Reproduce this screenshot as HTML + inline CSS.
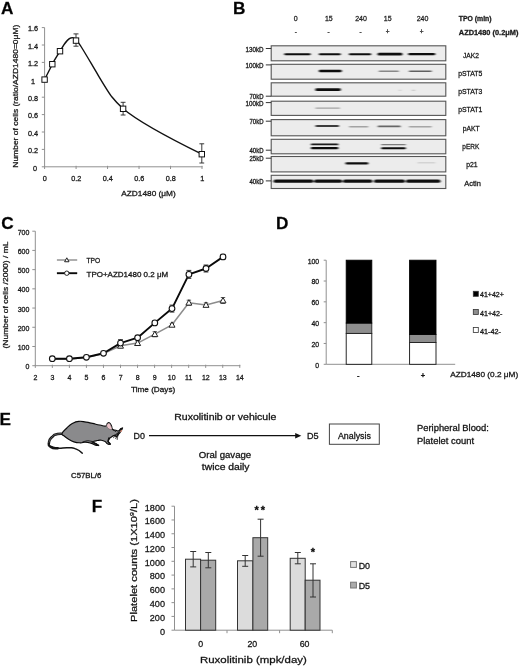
<!DOCTYPE html>
<html lang="en"><head><meta charset="utf-8"><title>Figure</title>
<style>
html,body{margin:0;padding:0;background:#fff;}
body{width:520px;height:668px;overflow:hidden;}
text{stroke:#1a1a1a;stroke-width:0.28px;}
svg{display:block;filter:blur(0.4px);font-family:'Liberation Sans', 'DejaVu Sans', sans-serif;}
</style></head><body>
<svg width="520" height="668" viewBox="0 0 520 668">
<defs><filter id="bb" x="-5%" y="-50%" width="110%" height="200%"><feGaussianBlur stdDeviation="0.9 0.35"/></filter></defs>
<rect width="520" height="668" fill="#fff"/>
<text x="1.00" y="13.80" font-size="17.2" text-anchor="start" font-weight="bold" fill="#000">A</text>
<text x="233.00" y="13.80" font-size="17.2" text-anchor="start" font-weight="bold" fill="#000">B</text>
<text x="1.30" y="228.80" font-size="17.2" text-anchor="start" font-weight="bold" fill="#000">C</text>
<text x="276.00" y="229.30" font-size="17.2" text-anchor="start" font-weight="bold" fill="#000">D</text>
<text x="-0.50" y="424.80" font-size="17.2" text-anchor="start" font-weight="bold" fill="#000">E</text>
<text x="91.80" y="512.00" font-size="17.2" text-anchor="start" font-weight="bold" fill="#000">F</text>
<line x1="44.60" y1="27.60" x2="44.60" y2="166.80" stroke="#909090" stroke-width="1"/>
<line x1="44.60" y1="166.80" x2="202.50" y2="166.80" stroke="#909090" stroke-width="1"/>
<line x1="41.80" y1="166.80" x2="44.60" y2="166.80" stroke="#909090" stroke-width="1"/>
<text x="35.00" y="170.60" font-size="7.3" text-anchor="middle" fill="#151515">0</text>
<line x1="41.80" y1="149.40" x2="44.60" y2="149.40" stroke="#909090" stroke-width="1"/>
<text x="33.00" y="153.20" font-size="7.3" text-anchor="middle" fill="#151515">0.2</text>
<line x1="41.80" y1="132.00" x2="44.60" y2="132.00" stroke="#909090" stroke-width="1"/>
<text x="33.00" y="135.80" font-size="7.3" text-anchor="middle" fill="#151515">0.4</text>
<line x1="41.80" y1="114.60" x2="44.60" y2="114.60" stroke="#909090" stroke-width="1"/>
<text x="33.00" y="118.40" font-size="7.3" text-anchor="middle" fill="#151515">0.6</text>
<line x1="41.80" y1="97.20" x2="44.60" y2="97.20" stroke="#909090" stroke-width="1"/>
<text x="33.00" y="101.00" font-size="7.3" text-anchor="middle" fill="#151515">0.8</text>
<line x1="41.80" y1="79.80" x2="44.60" y2="79.80" stroke="#909090" stroke-width="1"/>
<text x="33.00" y="83.60" font-size="7.3" text-anchor="middle" fill="#151515">1</text>
<line x1="41.80" y1="62.40" x2="44.60" y2="62.40" stroke="#909090" stroke-width="1"/>
<text x="33.00" y="66.20" font-size="7.3" text-anchor="middle" fill="#151515">1.2</text>
<line x1="41.80" y1="45.00" x2="44.60" y2="45.00" stroke="#909090" stroke-width="1"/>
<text x="33.00" y="48.80" font-size="7.3" text-anchor="middle" fill="#151515">1.4</text>
<line x1="41.80" y1="27.60" x2="44.60" y2="27.60" stroke="#909090" stroke-width="1"/>
<text x="33.00" y="31.40" font-size="7.3" text-anchor="middle" fill="#151515">1.6</text>
<line x1="44.60" y1="165.80" x2="44.60" y2="169.00" stroke="#909090" stroke-width="1"/>
<text x="44.80" y="181.20" font-size="7.3" text-anchor="middle" fill="#151515">0</text>
<line x1="76.08" y1="165.80" x2="76.08" y2="169.00" stroke="#909090" stroke-width="1"/>
<text x="76.28" y="181.20" font-size="7.3" text-anchor="middle" fill="#151515">0.2</text>
<line x1="107.56" y1="165.80" x2="107.56" y2="169.00" stroke="#909090" stroke-width="1"/>
<text x="107.76" y="181.20" font-size="7.3" text-anchor="middle" fill="#151515">0.4</text>
<line x1="139.04" y1="165.80" x2="139.04" y2="169.00" stroke="#909090" stroke-width="1"/>
<text x="139.24" y="181.20" font-size="7.3" text-anchor="middle" fill="#151515">0.6</text>
<line x1="170.52" y1="165.80" x2="170.52" y2="169.00" stroke="#909090" stroke-width="1"/>
<text x="170.72" y="181.20" font-size="7.3" text-anchor="middle" fill="#151515">0.8</text>
<line x1="202.00" y1="165.80" x2="202.00" y2="169.00" stroke="#909090" stroke-width="1"/>
<text x="202.20" y="181.20" font-size="7.3" text-anchor="middle" fill="#151515">1</text>
<text x="148.50" y="195.50" font-size="7.7" text-anchor="middle" fill="#151515" textLength="54.5" lengthAdjust="spacingAndGlyphs">AZD1480 (μM)</text>
<text x="18.50" y="96.20" font-size="7.7" text-anchor="middle" fill="#151515" textLength="143.0" lengthAdjust="spacingAndGlyphs" transform="rotate(-90 18.50 96.20)">Number of cells (ratio/AZD1480=0μM)</text>
<path d="M44.6,79.6 C47,74.5 50,69 52.3,64.2 C55,59 57.5,55.5 60,51.2 C63.5,45 67.5,37.6 72.5,37.6 C76,37.6 78.5,42.5 81,46.5 C87,56 92,65 98.5,75.8 C104,85 110,94.5 112,97 C116,102 119,105 123.1,108.8 C140,123 175,141 201.8,154.2" fill="none" stroke="#111" stroke-width="1.4"/>
<line x1="76.00" y1="33.90" x2="76.00" y2="46.20" stroke="#222" stroke-width="0.9"/>
<line x1="73.50" y1="33.90" x2="78.50" y2="33.90" stroke="#222" stroke-width="0.9"/>
<line x1="73.50" y1="46.20" x2="78.50" y2="46.20" stroke="#222" stroke-width="0.9"/>
<line x1="123.10" y1="102.30" x2="123.10" y2="115.00" stroke="#222" stroke-width="0.9"/>
<line x1="120.70" y1="102.30" x2="125.50" y2="102.30" stroke="#222" stroke-width="0.9"/>
<line x1="120.70" y1="115.00" x2="125.50" y2="115.00" stroke="#222" stroke-width="0.9"/>
<line x1="201.80" y1="143.80" x2="201.80" y2="163.00" stroke="#222" stroke-width="0.9"/>
<line x1="199.40" y1="143.80" x2="204.20" y2="143.80" stroke="#222" stroke-width="0.9"/>
<line x1="199.40" y1="163.00" x2="204.20" y2="163.00" stroke="#222" stroke-width="0.9"/>
<rect x="41.90" y="76.90" width="5.4" height="5.4" fill="#fff" stroke="#111" stroke-width="1"/>
<rect x="49.60" y="61.50" width="5.4" height="5.4" fill="#fff" stroke="#111" stroke-width="1"/>
<rect x="57.30" y="48.50" width="5.4" height="5.4" fill="#fff" stroke="#111" stroke-width="1"/>
<rect x="73.30" y="37.90" width="5.4" height="5.4" fill="#fff" stroke="#111" stroke-width="1"/>
<rect x="120.40" y="106.10" width="5.4" height="5.4" fill="#fff" stroke="#111" stroke-width="1"/>
<rect x="199.10" y="151.50" width="5.4" height="5.4" fill="#fff" stroke="#111" stroke-width="1"/>
<text x="295.70" y="21.40" font-size="7" text-anchor="middle" fill="#333">0</text>
<text x="328.80" y="21.40" font-size="7" text-anchor="middle" fill="#333">15</text>
<text x="361.00" y="21.40" font-size="7" text-anchor="middle" fill="#333">240</text>
<text x="387.70" y="21.40" font-size="7" text-anchor="middle" fill="#333">15</text>
<text x="422.50" y="21.40" font-size="7" text-anchor="middle" fill="#333">240</text>
<text x="295.70" y="34.20" font-size="6.4" text-anchor="middle" fill="#333">-</text>
<text x="328.50" y="34.20" font-size="6.4" text-anchor="middle" fill="#333">-</text>
<text x="360.50" y="34.20" font-size="6.4" text-anchor="middle" fill="#333">-</text>
<text x="387.70" y="34.20" font-size="6.4" text-anchor="middle" fill="#333">+</text>
<text x="421.50" y="34.20" font-size="6.4" text-anchor="middle" fill="#333">+</text>
<text x="458.80" y="21.30" font-size="7" text-anchor="start" font-weight="bold" fill="#1a1a1a" textLength="32.8" lengthAdjust="spacingAndGlyphs">TPO (min)</text>
<text x="458.80" y="34.80" font-size="7" text-anchor="start" font-weight="bold" fill="#1a1a1a" textLength="59.6" lengthAdjust="spacingAndGlyphs">AZD1480 (0.2μM)</text>
<rect x="271.2" y="45.8" width="174.6" height="15.0" fill="#ececec" stroke="#555" stroke-width="1.1"/>
<rect x="271.2" y="64.3" width="174.6" height="14.9" fill="#ececec" stroke="#555" stroke-width="1.1"/>
<rect x="271.2" y="82.8" width="174.6" height="13.4" fill="#ececec" stroke="#555" stroke-width="1.1"/>
<rect x="271.2" y="101.2" width="174.6" height="14.2" fill="#ececec" stroke="#555" stroke-width="1.1"/>
<rect x="271.2" y="119.6" width="174.6" height="16.2" fill="#ececec" stroke="#555" stroke-width="1.1"/>
<rect x="271.2" y="139.3" width="174.6" height="14.5" fill="#ececec" stroke="#555" stroke-width="1.1"/>
<rect x="271.2" y="156.5" width="174.6" height="15.4" fill="#ececec" stroke="#555" stroke-width="1.1"/>
<rect x="271.2" y="175.3" width="174.6" height="13.2" fill="#ececec" stroke="#555" stroke-width="1.1"/>
<text x="462.90" y="57.50" font-size="7.4" text-anchor="start" fill="#151515" textLength="16.0" lengthAdjust="spacingAndGlyphs">JAK2</text>
<text x="458.20" y="75.70" font-size="7.4" text-anchor="start" fill="#151515" textLength="24.1" lengthAdjust="spacingAndGlyphs">pSTAT5</text>
<text x="458.20" y="94.20" font-size="7.4" text-anchor="start" fill="#151515" textLength="24.1" lengthAdjust="spacingAndGlyphs">pSTAT3</text>
<text x="458.20" y="112.30" font-size="7.4" text-anchor="start" fill="#151515" textLength="24.1" lengthAdjust="spacingAndGlyphs">pSTAT1</text>
<text x="462.80" y="130.70" font-size="7.4" text-anchor="start" fill="#151515" textLength="16.9" lengthAdjust="spacingAndGlyphs">pAKT</text>
<text x="462.30" y="149.20" font-size="7.4" text-anchor="start" fill="#151515" textLength="16.9" lengthAdjust="spacingAndGlyphs">pERK</text>
<text x="466.20" y="167.30" font-size="7.4" text-anchor="start" fill="#151515" textLength="11.5" lengthAdjust="spacingAndGlyphs">p21</text>
<text x="464.20" y="186.10" font-size="7.4" text-anchor="start" fill="#151515" textLength="16.6" lengthAdjust="spacingAndGlyphs">Actin</text>
<text x="263.50" y="51.70" font-size="6.3" text-anchor="end" fill="#151515" textLength="18.0" lengthAdjust="spacingAndGlyphs">130kD</text>
<line x1="265.80" y1="48.50" x2="271.20" y2="48.50" stroke="#333" stroke-width="1"/>
<text x="263.50" y="68.10" font-size="6.3" text-anchor="end" fill="#151515" textLength="18.0" lengthAdjust="spacingAndGlyphs">100kD</text>
<line x1="265.80" y1="64.90" x2="271.20" y2="64.90" stroke="#333" stroke-width="1"/>
<text x="263.50" y="99.40" font-size="6.3" text-anchor="end" fill="#151515" textLength="14.0" lengthAdjust="spacingAndGlyphs">70kD</text>
<line x1="265.80" y1="96.20" x2="271.20" y2="96.20" stroke="#333" stroke-width="1"/>
<text x="263.50" y="105.80" font-size="6.3" text-anchor="end" fill="#151515" textLength="18.0" lengthAdjust="spacingAndGlyphs">100kD</text>
<line x1="265.80" y1="102.60" x2="271.20" y2="102.60" stroke="#333" stroke-width="1"/>
<text x="263.50" y="124.40" font-size="6.3" text-anchor="end" fill="#151515" textLength="14.0" lengthAdjust="spacingAndGlyphs">70kD</text>
<line x1="265.80" y1="121.20" x2="271.20" y2="121.20" stroke="#333" stroke-width="1"/>
<text x="263.50" y="153.40" font-size="6.3" text-anchor="end" fill="#151515" textLength="14.0" lengthAdjust="spacingAndGlyphs">40kD</text>
<line x1="265.80" y1="150.20" x2="271.20" y2="150.20" stroke="#333" stroke-width="1"/>
<text x="263.50" y="161.40" font-size="6.3" text-anchor="end" fill="#151515" textLength="14.0" lengthAdjust="spacingAndGlyphs">25kD</text>
<line x1="265.80" y1="158.20" x2="271.20" y2="158.20" stroke="#333" stroke-width="1"/>
<text x="263.50" y="184.10" font-size="6.3" text-anchor="end" fill="#151515" textLength="14.0" lengthAdjust="spacingAndGlyphs">40kD</text>
<line x1="265.80" y1="180.90" x2="271.20" y2="180.90" stroke="#333" stroke-width="1"/>
<g filter="url(#bb)">
<rect x="284.2" y="53.19" width="26.5" height="2.03" rx="1.01" fill="#111" opacity="1"/>
<rect x="318.8" y="53.19" width="22.0" height="2.03" rx="1.01" fill="#111" opacity="1"/>
<rect x="348.9" y="53.26" width="22.3" height="1.87" rx="0.94" fill="#111" opacity="1"/>
<rect x="377.6" y="52.87" width="24.8" height="2.65" rx="1.33" fill="#111" opacity="1"/>
<rect x="408.1" y="53.11" width="27.2" height="2.18" rx="1.09" fill="#111" opacity="1"/>
<rect x="318.8" y="69.83" width="23.0" height="2.34" rx="1.17" fill="#111" opacity="1"/>
<rect x="378.6" y="70.60" width="20.3" height="1.40" rx="0.70" fill="#444" opacity="0.6"/>
<rect x="408.8" y="70.38" width="23.0" height="1.64" rx="0.82" fill="#333" opacity="0.75"/>
<rect x="315.3" y="88.37" width="25.5" height="2.65" rx="1.33" fill="#111" opacity="1"/>
<rect x="398.6" y="89.83" width="2.8" height="0.94" rx="0.47" fill="#777" opacity="0.3"/>
<rect x="411.6" y="89.83" width="3.8" height="0.94" rx="0.47" fill="#777" opacity="0.35"/>
<rect x="315.3" y="107.38" width="24.8" height="1.25" rx="0.62" fill="#666" opacity="0.55"/>
<rect x="315.3" y="124.99" width="23.8" height="2.03" rx="1.01" fill="#2a2a2a" opacity="0.9"/>
<rect x="348.9" y="126.00" width="19.5" height="1.40" rx="0.70" fill="#666" opacity="0.55"/>
<rect x="377.6" y="125.50" width="23.1" height="1.79" rx="0.90" fill="#444" opacity="0.8"/>
<rect x="408.8" y="126.00" width="23.0" height="1.40" rx="0.70" fill="#777" opacity="0.6"/>
<rect x="310.8" y="143.54" width="27.6" height="1.72" rx="0.86" fill="#1a1a1a" opacity="1"/>
<rect x="310.8" y="147.11" width="27.6" height="2.18" rx="1.09" fill="#111" opacity="1"/>
<rect x="381.1" y="144.08" width="24.8" height="1.25" rx="0.62" fill="#555" opacity="0.75"/>
<rect x="381.1" y="147.19" width="24.8" height="2.03" rx="1.01" fill="#111" opacity="1"/>
<rect x="345.4" y="162.31" width="23.0" height="2.18" rx="1.09" fill="#111" opacity="1"/>
<rect x="417.4" y="162.43" width="17.9" height="0.94" rx="0.47" fill="#888" opacity="0.5"/>
<rect x="273.6" y="179.56" width="39.8" height="3.28" rx="1.64" fill="#111" opacity="1"/>
<rect x="314.2" y="179.56" width="28.0" height="3.28" rx="1.64" fill="#111" opacity="1"/>
<rect x="343.0" y="179.56" width="29.4" height="3.28" rx="1.64" fill="#111" opacity="1"/>
<rect x="374.0" y="179.56" width="31.0" height="3.28" rx="1.64" fill="#111" opacity="1"/>
<rect x="406.0" y="179.56" width="34.4" height="3.28" rx="1.64" fill="#111" opacity="1"/>
</g>
<line x1="35.30" y1="231.20" x2="35.30" y2="365.70" stroke="#909090" stroke-width="1"/>
<line x1="35.30" y1="365.70" x2="240.28" y2="365.70" stroke="#909090" stroke-width="1"/>
<line x1="32.30" y1="365.70" x2="35.30" y2="365.70" stroke="#909090" stroke-width="1"/>
<text x="29.40" y="369.30" font-size="7" text-anchor="end" fill="#151515">0</text>
<line x1="32.30" y1="346.49" x2="35.30" y2="346.49" stroke="#909090" stroke-width="1"/>
<text x="29.40" y="350.09" font-size="7" text-anchor="end" fill="#151515">100</text>
<line x1="32.30" y1="327.27" x2="35.30" y2="327.27" stroke="#909090" stroke-width="1"/>
<text x="29.40" y="330.87" font-size="7" text-anchor="end" fill="#151515">200</text>
<line x1="32.30" y1="308.06" x2="35.30" y2="308.06" stroke="#909090" stroke-width="1"/>
<text x="29.40" y="311.66" font-size="7" text-anchor="end" fill="#151515">300</text>
<line x1="32.30" y1="288.84" x2="35.30" y2="288.84" stroke="#909090" stroke-width="1"/>
<text x="29.40" y="292.44" font-size="7" text-anchor="end" fill="#151515">400</text>
<line x1="32.30" y1="269.63" x2="35.30" y2="269.63" stroke="#909090" stroke-width="1"/>
<text x="29.40" y="273.23" font-size="7" text-anchor="end" fill="#151515">500</text>
<line x1="32.30" y1="250.41" x2="35.30" y2="250.41" stroke="#909090" stroke-width="1"/>
<text x="29.40" y="254.01" font-size="7" text-anchor="end" fill="#151515">600</text>
<line x1="32.30" y1="231.20" x2="35.30" y2="231.20" stroke="#909090" stroke-width="1"/>
<text x="29.40" y="234.80" font-size="7" text-anchor="end" fill="#151515">700</text>
<line x1="35.30" y1="364.70" x2="35.30" y2="367.90" stroke="#909090" stroke-width="1"/>
<text x="35.40" y="379.60" font-size="7" text-anchor="middle" fill="#151515">2</text>
<line x1="52.34" y1="364.70" x2="52.34" y2="367.90" stroke="#909090" stroke-width="1"/>
<text x="52.44" y="379.60" font-size="7" text-anchor="middle" fill="#151515">3</text>
<line x1="69.38" y1="364.70" x2="69.38" y2="367.90" stroke="#909090" stroke-width="1"/>
<text x="69.48" y="379.60" font-size="7" text-anchor="middle" fill="#151515">4</text>
<line x1="86.42" y1="364.70" x2="86.42" y2="367.90" stroke="#909090" stroke-width="1"/>
<text x="86.52" y="379.60" font-size="7" text-anchor="middle" fill="#151515">5</text>
<line x1="103.46" y1="364.70" x2="103.46" y2="367.90" stroke="#909090" stroke-width="1"/>
<text x="103.56" y="379.60" font-size="7" text-anchor="middle" fill="#151515">6</text>
<line x1="120.50" y1="364.70" x2="120.50" y2="367.90" stroke="#909090" stroke-width="1"/>
<text x="120.60" y="379.60" font-size="7" text-anchor="middle" fill="#151515">7</text>
<line x1="137.54" y1="364.70" x2="137.54" y2="367.90" stroke="#909090" stroke-width="1"/>
<text x="137.64" y="379.60" font-size="7" text-anchor="middle" fill="#151515">8</text>
<line x1="154.58" y1="364.70" x2="154.58" y2="367.90" stroke="#909090" stroke-width="1"/>
<text x="154.68" y="379.60" font-size="7" text-anchor="middle" fill="#151515">9</text>
<line x1="171.62" y1="364.70" x2="171.62" y2="367.90" stroke="#909090" stroke-width="1"/>
<text x="171.72" y="379.60" font-size="7" text-anchor="middle" fill="#151515">10</text>
<line x1="188.66" y1="364.70" x2="188.66" y2="367.90" stroke="#909090" stroke-width="1"/>
<text x="188.76" y="379.60" font-size="7" text-anchor="middle" fill="#151515">11</text>
<line x1="205.70" y1="364.70" x2="205.70" y2="367.90" stroke="#909090" stroke-width="1"/>
<text x="205.80" y="379.60" font-size="7" text-anchor="middle" fill="#151515">12</text>
<line x1="222.74" y1="364.70" x2="222.74" y2="367.90" stroke="#909090" stroke-width="1"/>
<text x="222.84" y="379.60" font-size="7" text-anchor="middle" fill="#151515">13</text>
<line x1="239.78" y1="364.70" x2="239.78" y2="367.90" stroke="#909090" stroke-width="1"/>
<text x="239.88" y="379.60" font-size="7" text-anchor="middle" fill="#151515">14</text>
<text x="153.10" y="391.60" font-size="7.6" text-anchor="middle" fill="#151515" textLength="44.2" lengthAdjust="spacingAndGlyphs">Time (Days)</text>
<text x="8.00" y="295.00" font-size="7.4" text-anchor="middle" fill="#151515" textLength="107.0" lengthAdjust="spacingAndGlyphs" transform="rotate(-90 8.00 295.00)">(Number of cells /2000) / mL</text>
<polyline points="52.3,358.9 69.4,358.9 86.4,357.6 103.5,353.6 120.5,345.8 137.6,343.1 154.8,334.2 172,324.8 188.9,302.7 206,304.9 223,300.5" fill="none" stroke="#8c8c8c" stroke-width="1.5" stroke-linejoin="round"/>
<polyline points="52.3,358.7 69.4,358.7 86.4,357.3 103.5,353.3 120.5,343.1 137.6,337.7 154.8,322.9 172,308.6 188.9,274.4 206,268.5 223,256.9" fill="none" stroke="#0a0a0a" stroke-width="1.9" stroke-linejoin="round"/>
<line x1="120.50" y1="343.80" x2="120.50" y2="347.80" stroke="#333" stroke-width="0.8"/>
<line x1="118.30" y1="343.80" x2="122.70" y2="343.80" stroke="#333" stroke-width="0.8"/>
<line x1="118.30" y1="347.80" x2="122.70" y2="347.80" stroke="#333" stroke-width="0.8"/>
<line x1="137.60" y1="341.10" x2="137.60" y2="345.10" stroke="#333" stroke-width="0.8"/>
<line x1="135.40" y1="341.10" x2="139.80" y2="341.10" stroke="#333" stroke-width="0.8"/>
<line x1="135.40" y1="345.10" x2="139.80" y2="345.10" stroke="#333" stroke-width="0.8"/>
<line x1="154.80" y1="331.70" x2="154.80" y2="336.70" stroke="#333" stroke-width="0.8"/>
<line x1="152.60" y1="331.70" x2="157.00" y2="331.70" stroke="#333" stroke-width="0.8"/>
<line x1="152.60" y1="336.70" x2="157.00" y2="336.70" stroke="#333" stroke-width="0.8"/>
<line x1="172.00" y1="323.30" x2="172.00" y2="326.30" stroke="#333" stroke-width="0.8"/>
<line x1="169.80" y1="323.30" x2="174.20" y2="323.30" stroke="#333" stroke-width="0.8"/>
<line x1="169.80" y1="326.30" x2="174.20" y2="326.30" stroke="#333" stroke-width="0.8"/>
<line x1="188.90" y1="300.20" x2="188.90" y2="305.20" stroke="#333" stroke-width="0.8"/>
<line x1="186.70" y1="300.20" x2="191.10" y2="300.20" stroke="#333" stroke-width="0.8"/>
<line x1="186.70" y1="305.20" x2="191.10" y2="305.20" stroke="#333" stroke-width="0.8"/>
<line x1="206.00" y1="302.90" x2="206.00" y2="306.90" stroke="#333" stroke-width="0.8"/>
<line x1="203.80" y1="302.90" x2="208.20" y2="302.90" stroke="#333" stroke-width="0.8"/>
<line x1="203.80" y1="306.90" x2="208.20" y2="306.90" stroke="#333" stroke-width="0.8"/>
<line x1="223.00" y1="297.50" x2="223.00" y2="303.50" stroke="#333" stroke-width="0.8"/>
<line x1="220.80" y1="297.50" x2="225.20" y2="297.50" stroke="#333" stroke-width="0.8"/>
<line x1="220.80" y1="303.50" x2="225.20" y2="303.50" stroke="#333" stroke-width="0.8"/>
<line x1="120.50" y1="339.60" x2="120.50" y2="346.60" stroke="#222" stroke-width="0.9"/>
<line x1="118.10" y1="339.60" x2="122.90" y2="339.60" stroke="#222" stroke-width="0.9"/>
<line x1="118.10" y1="346.60" x2="122.90" y2="346.60" stroke="#222" stroke-width="0.9"/>
<line x1="172.00" y1="305.10" x2="172.00" y2="312.10" stroke="#222" stroke-width="0.9"/>
<line x1="169.60" y1="305.10" x2="174.40" y2="305.10" stroke="#222" stroke-width="0.9"/>
<line x1="169.60" y1="312.10" x2="174.40" y2="312.10" stroke="#222" stroke-width="0.9"/>
<line x1="188.90" y1="270.40" x2="188.90" y2="278.40" stroke="#222" stroke-width="0.9"/>
<line x1="186.50" y1="270.40" x2="191.30" y2="270.40" stroke="#222" stroke-width="0.9"/>
<line x1="186.50" y1="278.40" x2="191.30" y2="278.40" stroke="#222" stroke-width="0.9"/>
<line x1="206.00" y1="265.00" x2="206.00" y2="272.00" stroke="#222" stroke-width="0.9"/>
<line x1="203.60" y1="265.00" x2="208.40" y2="265.00" stroke="#222" stroke-width="0.9"/>
<line x1="203.60" y1="272.00" x2="208.40" y2="272.00" stroke="#222" stroke-width="0.9"/>
<line x1="223.00" y1="254.40" x2="223.00" y2="259.40" stroke="#222" stroke-width="0.9"/>
<line x1="220.60" y1="254.40" x2="225.40" y2="254.40" stroke="#222" stroke-width="0.9"/>
<line x1="220.60" y1="259.40" x2="225.40" y2="259.40" stroke="#222" stroke-width="0.9"/>
<path d="M120.50,342.80 L123.50,348.20 L117.50,348.20 Z" fill="#fff" stroke="#222" stroke-width="1"/>
<path d="M137.60,340.10 L140.60,345.50 L134.60,345.50 Z" fill="#fff" stroke="#222" stroke-width="1"/>
<path d="M154.80,331.20 L157.80,336.60 L151.80,336.60 Z" fill="#fff" stroke="#222" stroke-width="1"/>
<path d="M172.00,321.80 L175.00,327.20 L169.00,327.20 Z" fill="#fff" stroke="#222" stroke-width="1"/>
<path d="M188.90,299.70 L191.90,305.10 L185.90,305.10 Z" fill="#fff" stroke="#222" stroke-width="1"/>
<path d="M206.00,301.90 L209.00,307.30 L203.00,307.30 Z" fill="#fff" stroke="#222" stroke-width="1"/>
<path d="M223.00,297.50 L226.00,302.90 L220.00,302.90 Z" fill="#fff" stroke="#222" stroke-width="1"/>
<circle cx="52.3" cy="358.7" r="2.85" fill="#fff" stroke="#111" stroke-width="1.1"/>
<circle cx="69.4" cy="358.7" r="2.85" fill="#fff" stroke="#111" stroke-width="1.1"/>
<circle cx="86.4" cy="357.3" r="2.85" fill="#fff" stroke="#111" stroke-width="1.1"/>
<circle cx="103.5" cy="353.3" r="2.85" fill="#fff" stroke="#111" stroke-width="1.1"/>
<circle cx="120.5" cy="343.1" r="2.85" fill="#fff" stroke="#111" stroke-width="1.1"/>
<circle cx="137.6" cy="337.7" r="2.85" fill="#fff" stroke="#111" stroke-width="1.1"/>
<circle cx="154.8" cy="322.9" r="2.85" fill="#fff" stroke="#111" stroke-width="1.1"/>
<circle cx="172" cy="308.6" r="2.85" fill="#fff" stroke="#111" stroke-width="1.1"/>
<circle cx="188.9" cy="274.4" r="2.85" fill="#fff" stroke="#111" stroke-width="1.1"/>
<circle cx="206" cy="268.5" r="2.85" fill="#fff" stroke="#111" stroke-width="1.1"/>
<circle cx="223" cy="256.9" r="2.85" fill="#fff" stroke="#111" stroke-width="1.1"/>
<line x1="56.90" y1="260.00" x2="77.20" y2="260.00" stroke="#8c8c8c" stroke-width="1.4"/>
<path d="M66.80,257.80 L69.00,261.76 L64.60,261.76 Z" fill="#fff" stroke="#222" stroke-width="1"/>
<line x1="56.90" y1="273.20" x2="77.20" y2="273.20" stroke="#0a0a0a" stroke-width="1.9"/>
<circle cx="66.8" cy="273.2" r="2.2" fill="#fff" stroke="#111" stroke-width="0.9"/>
<text x="86.50" y="263.00" font-size="7.4" text-anchor="start" fill="#151515" textLength="13.8" lengthAdjust="spacingAndGlyphs">TPO</text>
<text x="86.50" y="276.80" font-size="7.4" text-anchor="start" fill="#151515" textLength="81.7" lengthAdjust="spacingAndGlyphs">TPO+AZD1480 0.2 μM</text>
<line x1="326.20" y1="260.20" x2="326.20" y2="364.30" stroke="#909090" stroke-width="1"/>
<line x1="326.20" y1="364.30" x2="455.20" y2="364.30" stroke="#909090" stroke-width="1"/>
<line x1="323.70" y1="364.30" x2="326.20" y2="364.30" stroke="#909090" stroke-width="1"/>
<text x="319.20" y="367.60" font-size="6.9" text-anchor="end" fill="#151515">0</text>
<line x1="323.70" y1="343.48" x2="326.20" y2="343.48" stroke="#909090" stroke-width="1"/>
<text x="319.20" y="346.78" font-size="6.9" text-anchor="end" fill="#151515">20</text>
<line x1="323.70" y1="322.66" x2="326.20" y2="322.66" stroke="#909090" stroke-width="1"/>
<text x="319.20" y="325.96" font-size="6.9" text-anchor="end" fill="#151515">40</text>
<line x1="323.70" y1="301.84" x2="326.20" y2="301.84" stroke="#909090" stroke-width="1"/>
<text x="319.20" y="305.14" font-size="6.9" text-anchor="end" fill="#151515">60</text>
<line x1="323.70" y1="281.02" x2="326.20" y2="281.02" stroke="#909090" stroke-width="1"/>
<text x="319.20" y="284.32" font-size="6.9" text-anchor="end" fill="#151515">80</text>
<line x1="323.70" y1="260.20" x2="326.20" y2="260.20" stroke="#909090" stroke-width="1"/>
<text x="319.20" y="263.50" font-size="6.9" text-anchor="end" fill="#151515">100</text>
<rect x="346.2" y="333.38" width="25.60" height="30.92" fill="#fff" stroke="#111" stroke-width="0.9"/>
<rect x="346.2" y="323.08" width="25.60" height="10.31" fill="#8e8e8e" stroke="#222" stroke-width="0.9"/>
<rect x="346.2" y="260.20" width="25.60" height="62.88" fill="#000" stroke="#000" stroke-width="0.9"/>
<rect x="409.6" y="342.54" width="26.40" height="21.76" fill="#fff" stroke="#111" stroke-width="0.9"/>
<rect x="409.6" y="334.42" width="26.40" height="8.12" fill="#8e8e8e" stroke="#222" stroke-width="0.9"/>
<rect x="409.6" y="260.20" width="26.40" height="74.22" fill="#000" stroke="#000" stroke-width="0.9"/>
<text x="358.30" y="377.60" font-size="7.5" text-anchor="middle" font-weight="bold" fill="#151515">-</text>
<text x="423.00" y="377.50" font-size="7.5" text-anchor="middle" font-weight="bold" fill="#151515">+</text>
<text x="450.20" y="377.40" font-size="7.4" text-anchor="start" fill="#151515" textLength="68.0" lengthAdjust="spacingAndGlyphs">AZD1480 (0.2 μM)</text>
<rect x="473.3" y="291.3" width="5" height="5" fill="#000" stroke="#333" stroke-width="0.8"/>
<text x="480.00" y="297.30" font-size="6.5" text-anchor="start" fill="#151515" textLength="23.9" lengthAdjust="spacingAndGlyphs">41+42+</text>
<rect x="473.3" y="309.5" width="5" height="5" fill="#8e8e8e" stroke="#333" stroke-width="0.8"/>
<text x="480.00" y="315.50" font-size="6.5" text-anchor="start" fill="#151515" textLength="22.4" lengthAdjust="spacingAndGlyphs">41+42-</text>
<rect x="473.3" y="327.5" width="5" height="5" fill="#fff" stroke="#333" stroke-width="0.8"/>
<text x="480.00" y="333.50" font-size="6.5" text-anchor="start" fill="#151515" textLength="20.9" lengthAdjust="spacingAndGlyphs">41-42-</text>
<path d="M64.68,434.09 C62.31,434.09 61.77,433.12 57.57,434.09 C53.37,435.06 54.93,434.26 52.08,437.00 C49.22,439.75 49.44,439.05 49.01,442.33 C48.58,445.62 47.88,444.86 50.79,446.86 C53.69,448.85 55.42,447.83 57.73,448.31" fill="none" stroke="#141414" stroke-width="2.5" stroke-linecap="round"/>
<path d="M64.68,434.09 C62.31,434.09 61.77,433.12 57.57,434.09 C53.37,435.06 54.93,434.26 52.08,437.00 C49.22,439.75 50.03,440.56 49.01,442.33" fill="none" stroke="#6e6e70" stroke-width="0.8" stroke-linecap="round"/>
<path d="M50.79,446.86 C53.10,447.34 51.92,448.04 57.73,448.31 C63.55,448.58 62.04,447.39 68.23,447.66 C74.43,447.93 71.63,447.29 76.31,449.12 C81.00,450.95 80.30,451.81 82.29,453.16" fill="none" stroke="#141414" stroke-width="1.5" stroke-linecap="round"/>
<path d="M62.09,433.45 C62.74,431.38 63.90,430.91 66.62,428.28 C69.33,425.65 69.04,425.45 72.27,423.59 C75.50,421.74 75.07,421.72 78.73,421.33 C82.40,420.94 82.34,421.58 86.00,422.14 C89.67,422.70 88.80,422.66 92.47,423.43 C96.13,424.21 96.16,424.36 99.74,425.05 C103.31,425.74 103.85,426.45 105.87,426.02 C107.90,425.59 106.34,424.25 107.33,423.43 C108.32,422.61 108.47,422.26 109.59,422.95 C110.71,423.64 110.75,424.34 111.53,426.02 C112.30,427.70 111.33,428.13 112.50,429.25 C113.66,430.37 114.25,429.79 115.89,430.22 C117.53,430.65 117.30,431.29 118.64,430.86 C119.97,430.43 119.95,429.12 120.90,428.60 C121.85,428.08 122.36,427.98 122.19,428.92 C122.02,429.87 121.20,430.78 120.25,432.16 C119.30,433.53 119.67,432.89 118.64,434.09 C117.60,435.30 117.41,436.33 116.37,436.68 C115.34,437.02 115.97,435.39 114.76,435.39 C113.55,435.39 113.27,435.82 111.85,436.68 C110.43,437.54 110.38,437.32 109.43,438.62 C108.48,439.91 108.17,440.06 108.30,441.53 C108.43,442.99 110.17,443.51 109.91,444.11 C109.65,444.71 108.62,444.48 107.33,443.79 C106.04,443.10 106.66,442.47 105.07,441.53 C103.47,440.58 103.42,440.49 101.35,440.23 C99.28,439.97 99.47,440.12 97.31,440.56 C95.16,440.99 93.62,440.99 93.27,441.85 C92.93,442.71 94.68,442.84 96.02,443.79 C97.35,444.73 98.45,445.06 98.28,445.40 C98.11,445.75 97.35,445.68 95.37,445.08 C93.39,444.48 93.56,443.92 90.85,443.14 C88.14,442.37 88.00,442.26 85.20,442.17 C82.40,442.09 83.36,442.90 80.35,442.82 C77.33,442.73 77.12,442.88 73.89,441.85 C70.66,440.81 70.82,440.49 68.23,438.94 C65.65,437.39 65.83,437.50 64.19,436.03 C62.56,434.57 61.45,435.52 62.09,433.45 Z" fill="#8a8a8c" stroke="#0a0a0a" stroke-width="1.15" stroke-linejoin="round"/>
<path d="M106.68,426.18 C106.38,424.97 106.97,424.40 107.65,423.75 C108.33,423.11 108.76,422.83 109.59,423.43 C110.42,424.03 110.68,424.98 111.21,426.34 C111.73,427.70 112.38,428.64 111.85,429.25 C111.32,429.85 110.15,429.64 108.94,428.92 C107.74,428.21 106.98,427.38 106.68,426.18 Z" fill="#ecc4ca" stroke="#444" stroke-width="0.5"/>
<polyline points="108.94,437.97 107.97,441.53 110.24,444.11" fill="none" stroke="#111" stroke-width="1.5" stroke-linecap="round" stroke-linejoin="round"/>
<polyline points="92.14,441.85 96.02,443.79 98.60,445.40" fill="none" stroke="#111" stroke-width="1.4" stroke-linecap="round" stroke-linejoin="round"/>
<polyline points="82.77,441.85 87.62,440.56 92.47,441.53" fill="none" stroke="#111" stroke-width="0.8" stroke-linecap="round" stroke-linejoin="round"/>
<polyline points="118.31,433.12 115.73,438.62" fill="none" stroke="#111" stroke-width="0.8" stroke-linecap="round" stroke-linejoin="round"/>
<polyline points="118.31,433.12 117.18,439.59" fill="none" stroke="#111" stroke-width="0.7" stroke-linecap="round" stroke-linejoin="round"/>
<polyline points="117.67,433.77 113.47,437.65" fill="none" stroke="#111" stroke-width="0.8" stroke-linecap="round" stroke-linejoin="round"/>
<polyline points="119.28,431.83 115.08,435.06 112.17,436.36" fill="none" stroke="#111" stroke-width="0.9" stroke-linecap="round" stroke-linejoin="round"/>
<polyline points="112.82,429.57 115.73,431.51" fill="none" stroke="#111" stroke-width="0.9" stroke-linecap="round" stroke-linejoin="round"/>
<circle cx="120.90" cy="430.86" r="1.1" fill="#e0907c"/>
<polyline points="119.61,430.54 121.22,428.92 122.51,427.95" fill="none" stroke="#111" stroke-width="1.3" stroke-linecap="round" stroke-linejoin="round"/>
<text x="86.20" y="477.60" font-size="6.6" text-anchor="middle" fill="#151515" textLength="30.4" lengthAdjust="spacingAndGlyphs">C57BL/6</text>
<text x="133.60" y="438.80" font-size="8.4" text-anchor="start" fill="#111" textLength="11.4" lengthAdjust="spacingAndGlyphs">D0</text>
<line x1="149.00" y1="435.70" x2="297.00" y2="435.70" stroke="#111" stroke-width="1.2"/>
<path d="M301.3,435.7 L295.2,433 L295.2,438.4 Z" fill="#111"/>
<text x="307.00" y="438.80" font-size="8.4" text-anchor="start" fill="#111" textLength="11.6" lengthAdjust="spacingAndGlyphs">D5</text>
<rect x="329.4" y="424" width="49.9" height="20.3" fill="#fff" stroke="#444" stroke-width="1"/>
<text x="354.40" y="438.80" font-size="8.4" text-anchor="middle" fill="#111" textLength="33.0" lengthAdjust="spacingAndGlyphs">Analysis</text>
<text x="225.30" y="419.80" font-size="8.6" text-anchor="middle" fill="#111" textLength="102.0" lengthAdjust="spacingAndGlyphs">Ruxolitinib or vehicule</text>
<text x="225.00" y="458.00" font-size="8.6" text-anchor="middle" fill="#111" textLength="52.4" lengthAdjust="spacingAndGlyphs">Oral gavage</text>
<text x="225.70" y="470.20" font-size="8.6" text-anchor="middle" fill="#111" textLength="47.7" lengthAdjust="spacingAndGlyphs">twice daily</text>
<text x="417.00" y="431.20" font-size="8.4" text-anchor="start" fill="#111" textLength="71.9" lengthAdjust="spacingAndGlyphs">Peripheral Blood:</text>
<text x="417.00" y="444.40" font-size="8.4" text-anchor="start" fill="#111" textLength="57.0" lengthAdjust="spacingAndGlyphs">Platelet count</text>
<line x1="174.50" y1="506.20" x2="174.50" y2="630.20" stroke="#909090" stroke-width="1"/>
<line x1="174.50" y1="630.20" x2="332.30" y2="630.20" stroke="#909090" stroke-width="1"/>
<line x1="171.50" y1="630.20" x2="174.50" y2="630.20" stroke="#909090" stroke-width="1"/>
<text x="165.00" y="634.60" font-size="9.1" text-anchor="end" fill="#151515">0</text>
<line x1="171.50" y1="616.42" x2="174.50" y2="616.42" stroke="#909090" stroke-width="1"/>
<text x="165.00" y="620.82" font-size="9.1" text-anchor="end" fill="#151515">200</text>
<line x1="171.50" y1="602.64" x2="174.50" y2="602.64" stroke="#909090" stroke-width="1"/>
<text x="165.00" y="607.04" font-size="9.1" text-anchor="end" fill="#151515">400</text>
<line x1="171.50" y1="588.87" x2="174.50" y2="588.87" stroke="#909090" stroke-width="1"/>
<text x="165.00" y="593.27" font-size="9.1" text-anchor="end" fill="#151515">600</text>
<line x1="171.50" y1="575.09" x2="174.50" y2="575.09" stroke="#909090" stroke-width="1"/>
<text x="165.00" y="579.49" font-size="9.1" text-anchor="end" fill="#151515">800</text>
<line x1="171.50" y1="561.31" x2="174.50" y2="561.31" stroke="#909090" stroke-width="1"/>
<text x="165.00" y="565.71" font-size="9.1" text-anchor="end" fill="#151515">1000</text>
<line x1="171.50" y1="547.53" x2="174.50" y2="547.53" stroke="#909090" stroke-width="1"/>
<text x="165.00" y="551.93" font-size="9.1" text-anchor="end" fill="#151515">1200</text>
<line x1="171.50" y1="533.76" x2="174.50" y2="533.76" stroke="#909090" stroke-width="1"/>
<text x="165.00" y="538.16" font-size="9.1" text-anchor="end" fill="#151515">1400</text>
<line x1="171.50" y1="519.98" x2="174.50" y2="519.98" stroke="#909090" stroke-width="1"/>
<text x="165.00" y="524.38" font-size="9.1" text-anchor="end" fill="#151515">1600</text>
<line x1="171.50" y1="506.20" x2="174.50" y2="506.20" stroke="#909090" stroke-width="1"/>
<text x="165.00" y="510.60" font-size="9.1" text-anchor="end" fill="#151515">1800</text>
<line x1="227.00" y1="630.20" x2="227.00" y2="633.20" stroke="#909090" stroke-width="1"/>
<line x1="279.60" y1="630.20" x2="279.60" y2="633.20" stroke="#909090" stroke-width="1"/>
<line x1="332.30" y1="630.20" x2="332.30" y2="633.20" stroke="#909090" stroke-width="1"/>
<rect x="185.5" y="559.2" width="15.10" height="71.00" fill="#dcdcdc" stroke="#333" stroke-width="1"/>
<rect x="200.6" y="560.2" width="15.10" height="70.00" fill="#a9a9a9" stroke="#333" stroke-width="1"/>
<rect x="237.5" y="560.8" width="15.40" height="69.40" fill="#dcdcdc" stroke="#333" stroke-width="1"/>
<rect x="252.9" y="537.7" width="14.80" height="92.50" fill="#a9a9a9" stroke="#333" stroke-width="1"/>
<rect x="290.2" y="558.3" width="15.00" height="71.90" fill="#dcdcdc" stroke="#333" stroke-width="1"/>
<rect x="305.2" y="580.2" width="14.80" height="50.00" fill="#a9a9a9" stroke="#333" stroke-width="1"/>
<line x1="193.20" y1="551.50" x2="193.20" y2="566.90" stroke="#333" stroke-width="1"/>
<line x1="190.20" y1="551.50" x2="196.20" y2="551.50" stroke="#333" stroke-width="1"/>
<line x1="190.20" y1="566.90" x2="196.20" y2="566.90" stroke="#333" stroke-width="1"/>
<line x1="208.30" y1="552.50" x2="208.30" y2="567.80" stroke="#333" stroke-width="1"/>
<line x1="205.30" y1="552.50" x2="211.30" y2="552.50" stroke="#333" stroke-width="1"/>
<line x1="205.30" y1="567.80" x2="211.30" y2="567.80" stroke="#333" stroke-width="1"/>
<line x1="245.20" y1="555.50" x2="245.20" y2="566.30" stroke="#333" stroke-width="1"/>
<line x1="242.20" y1="555.50" x2="248.20" y2="555.50" stroke="#333" stroke-width="1"/>
<line x1="242.20" y1="566.30" x2="248.20" y2="566.30" stroke="#333" stroke-width="1"/>
<line x1="260.60" y1="519.20" x2="260.60" y2="556.20" stroke="#333" stroke-width="1"/>
<line x1="257.60" y1="519.20" x2="263.60" y2="519.20" stroke="#333" stroke-width="1"/>
<line x1="257.60" y1="556.20" x2="263.60" y2="556.20" stroke="#333" stroke-width="1"/>
<line x1="297.80" y1="552.50" x2="297.80" y2="563.80" stroke="#333" stroke-width="1"/>
<line x1="294.80" y1="552.50" x2="300.80" y2="552.50" stroke="#333" stroke-width="1"/>
<line x1="294.80" y1="563.80" x2="300.80" y2="563.80" stroke="#333" stroke-width="1"/>
<line x1="313.00" y1="563.80" x2="313.00" y2="597.00" stroke="#333" stroke-width="1"/>
<line x1="310.00" y1="563.80" x2="316.00" y2="563.80" stroke="#333" stroke-width="1"/>
<line x1="310.00" y1="597.00" x2="316.00" y2="597.00" stroke="#333" stroke-width="1"/>
<text x="256.70" y="514.00" font-size="11" text-anchor="middle" font-weight="bold" fill="#000">*</text>
<text x="262.90" y="514.00" font-size="11" text-anchor="middle" font-weight="bold" fill="#000">*</text>
<text x="312.90" y="555.60" font-size="11" text-anchor="middle" font-weight="bold" fill="#000">*</text>
<text x="200.60" y="647.00" font-size="8.8" text-anchor="middle" fill="#151515">0</text>
<text x="252.30" y="647.00" font-size="8.8" text-anchor="middle" fill="#151515">20</text>
<text x="304.60" y="647.00" font-size="8.8" text-anchor="middle" fill="#151515">60</text>
<text x="253.40" y="662.50" font-size="9.8" text-anchor="middle" fill="#111" textLength="106.8" lengthAdjust="spacingAndGlyphs">Ruxolitinib (mpk/day)</text>
<text x="137.00" y="560.50" font-size="9.8" text-anchor="middle" fill="#111" textLength="123.0" lengthAdjust="spacingAndGlyphs" transform="rotate(-90 137.00 560.50)">Platelet counts (1X10<tspan font-size="6.2" dy="-3.2">9</tspan><tspan dy="3.2">/L)</tspan></text>
<rect x="350.6" y="561.6" width="5.8" height="5.8" fill="#e2e2e2" stroke="#777" stroke-width="1"/>
<text x="358.70" y="568.60" font-size="8.5" text-anchor="start" fill="#111" textLength="11.4" lengthAdjust="spacingAndGlyphs">D0</text>
<rect x="350.6" y="582.2" width="5.8" height="5.8" fill="#ababab" stroke="#777" stroke-width="1"/>
<text x="358.70" y="589.20" font-size="8.5" text-anchor="start" fill="#111" textLength="11.4" lengthAdjust="spacingAndGlyphs">D5</text>
</svg>
</body></html>
